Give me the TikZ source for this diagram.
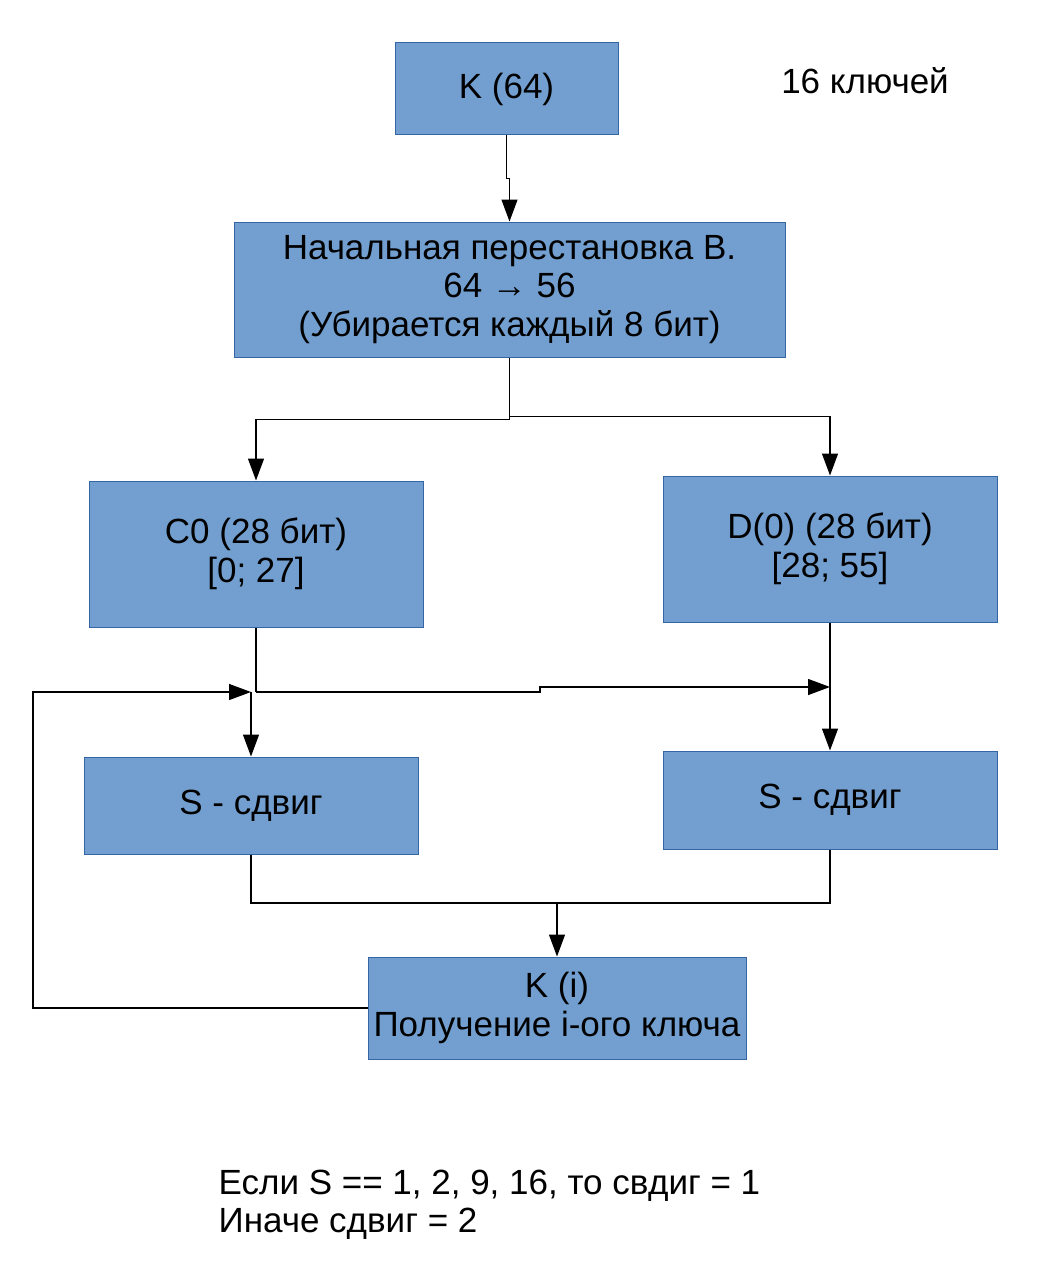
\documentclass[tikz,border=0pt]{standalone}
\usepackage{fontspec}
\setmainfont{Liberation Sans}
\usetikzlibrary{positioning,arrows.meta,calc}
\definecolor{boxfill}{HTML}{729FCF}
\definecolor{boxline}{HTML}{3465A4}
\tikzset{
  >={Triangle[length=22pt,width=16pt]},
}

\begin{document}
\begin{tikzpicture}[
  x=1pt,y=-1pt,
  line width=1.3pt,
  block/.style={draw=boxline, fill=boxfill, line width=1pt, align=center,
    inner sep=0pt, font=\fontsize{35}{38.5}\selectfont},
  arr/.style={->},
]
\useasboundingbox (0,0) rectangle (1058,1284);

\node[block, minimum width=223pt, minimum height=92pt] (k64) at (506.5,89) {K (64)};
\node[block, minimum width=551pt, minimum height=135pt] (perm) at (509.5,289.5)
  {Начальная перестановка B.\\64 → 56\\(Убирается каждый 8 бит)};
\node[block, minimum width=334pt, minimum height=146pt] (c0) at (256,554) {C0 (28 бит)\\{[}0; 27{]}};
\node[block, minimum width=334pt, minimum height=146pt] (d0) at (830,549) {D(0) (28 бит)\\{[}28; 55{]}};
\node[block, minimum width=334pt, minimum height=97pt] (sl) at (251,805.5) {S - сдвиг};
\node[block, minimum width=334pt, minimum height=98pt] (sr) at (830,800) {S - сдвиг};
\node[block, minimum width=378pt, minimum height=102pt] (ki) at (557,1008) {K (i)\\Получение i-ого ключа};

\node[font=\fontsize{35}{38.5}\selectfont] (count) at (865,81) {16 ключей};
\node[anchor=west, align=left, inner sep=0pt, font=\fontsize{35}{38.5}\selectfont] (note) at (218,1205)
  {Если S == 1, 2, 9, 16, то свдиг = 1\\Иначе сдвиг = 2};

\coordinate (split) at ($(perm.south)+(0,59)$);
\coordinate (cj) at (c0.south |- 0,692);
\coordinate (loop) at (33,692);
\coordinate (mj) at (557,903);

\draw[arr] (k64.south) -- ++(0,43) -| (perm.north);
\draw (perm.south) -- (split);
\draw[arr] (split) -- ++(0,3) -| (c0.north);
\draw[arr] (split) -| (d0.north);
\draw (c0.south) -- (cj);
\draw[arr] (sl.north |- cj) -- (sl.north);
\draw[arr] (ki.west) -| (loop) -- (sl.north |- loop);
\draw[arr] (cj) -- (540,692) -- (540,687) -- (d0.south |- 0,687);
\draw[arr] (d0.south) -- (sr.north);
\draw (sl.south) |- (mj);
\draw[arr] (sr.south) |- (mj) -- (ki.north);
\end{tikzpicture}
\end{document}
